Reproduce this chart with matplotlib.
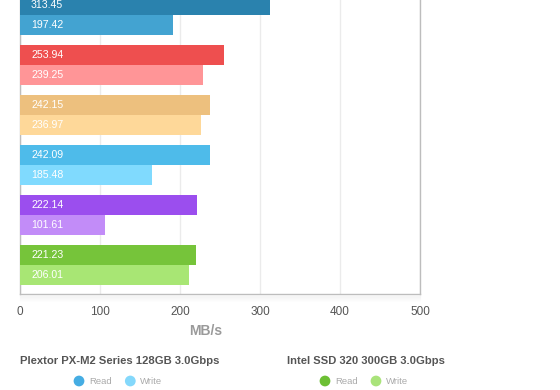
import matplotlib
matplotlib.use('Agg')
import matplotlib.pyplot as plt

plt.rcParams['font.family'] = ['Liberation Sans', 'DejaVu Sans']

# values printed on the bars
read_labels = [313.45, 253.94, 242.15, 242.09, 222.14, 221.23]
write_labels = [197.42, 239.25, 236.97, 185.48, 101.61, 206.01]
# bar lengths as drawn in the picture (MB/s)
read_bars = [312.5, 255.0, 237.5, 237.5, 221.3, 220.0]
write_bars = [191.3, 228.8, 226.0, 165.0, 106.3, 211.3]

read_colors = ['#2a82ae', '#ee4f4f', '#edc07e', '#4ebbea', '#9b4eee', '#76c43a']
write_colors = ['#43a3d1', '#ff9597', '#fed899', '#80dafe', '#c28cf8', '#a8e674']

legend_names = ['Plextor PX-M2 Series 128GB 3.0Gbps', 'Intel SSD 320 300GB 3.0Gbps']
legend_read = ['#45ade3', '#6cbf34']
legend_write = ['#84d8fb', '#a9e37a']

xticks = [0, 100, 200, 300, 400, 500]

fig = plt.figure(figsize=(5.6, 3.9), dpi=100)
ax = fig.add_axes([20/560, (390-294.3)/390, 400/560, 308.6/390])

groups = range(len(read_bars))
for i in groups:
    ax.barh(i - 0.2, read_bars[i], height=0.4, color=read_colors[i], zorder=3)
    ax.barh(i + 0.2, write_bars[i], height=0.4, color=write_colors[i], zorder=3)
    for yy, val in [(i - 0.2, read_labels[i]), (i + 0.2, write_labels[i])]:
        ax.annotate('%.2f' % val, xy=(0, yy), xytext=(11*0.72, 0), textcoords='offset points',
                    va='center', ha='left', color='white', fontsize=7.6, zorder=4)

ax.set_xlim(0, 500)
ax.set_ylim(5.586, -0.586)
ax.set_yticks([])
ax.set_xticks(xticks)
ax.tick_params(axis='x', length=0, pad=8.5, labelsize=8.5, labelcolor='#555555')
ax.grid(axis='x', color='#ebebeb', linewidth=1, zorder=0)
for side in ['left', 'bottom', 'right']:
    ax.spines[side].set_color('#bdbdbd')
    ax.spines[side].set_linewidth(1)
ax.spines['top'].set_visible(False)

# overlay in pixel coordinates for text below the plot
ov = fig.add_axes([0, 0, 1, 1])
ov.set_xlim(0, 560)
ov.set_ylim(390, 0)
ov.axis('off')

# faint shadow under the plot area
for k in range(6):
    ov.plot([20, 420], [295.5 + k, 295.5 + k], color='#000000', alpha=0.035*(6-k)/6, lw=1)

ov.text(205.3, 330.7, 'MB/s', ha='center', va='center', fontsize=10, fontweight='bold', color='#9a9a9a')

title_x = [20, 286.7]
dot_read_x = [79, 325]
dot_write_x = [130.3, 376]
for j in range(len(legend_names)):
    ov.text(title_x[j], 361, legend_names[j], ha='left', va='center', fontsize=8.1,
            fontweight='bold', color='#555555')
    ov.scatter([dot_read_x[j]], [381], s=60, color=legend_read[j], edgecolors='none')
    ov.scatter([dot_write_x[j]], [381], s=60, color=legend_write[j], edgecolors='none')
    ov.text(dot_read_x[j] + 10, 381.5, 'Read', ha='left', va='center', fontsize=6.8, color='#aaaaaa')
    ov.text(dot_write_x[j] + 10, 381.5, 'Write', ha='left', va='center', fontsize=6.8, color='#aaaaaa')

fig.savefig('out.png', dpi=100)
